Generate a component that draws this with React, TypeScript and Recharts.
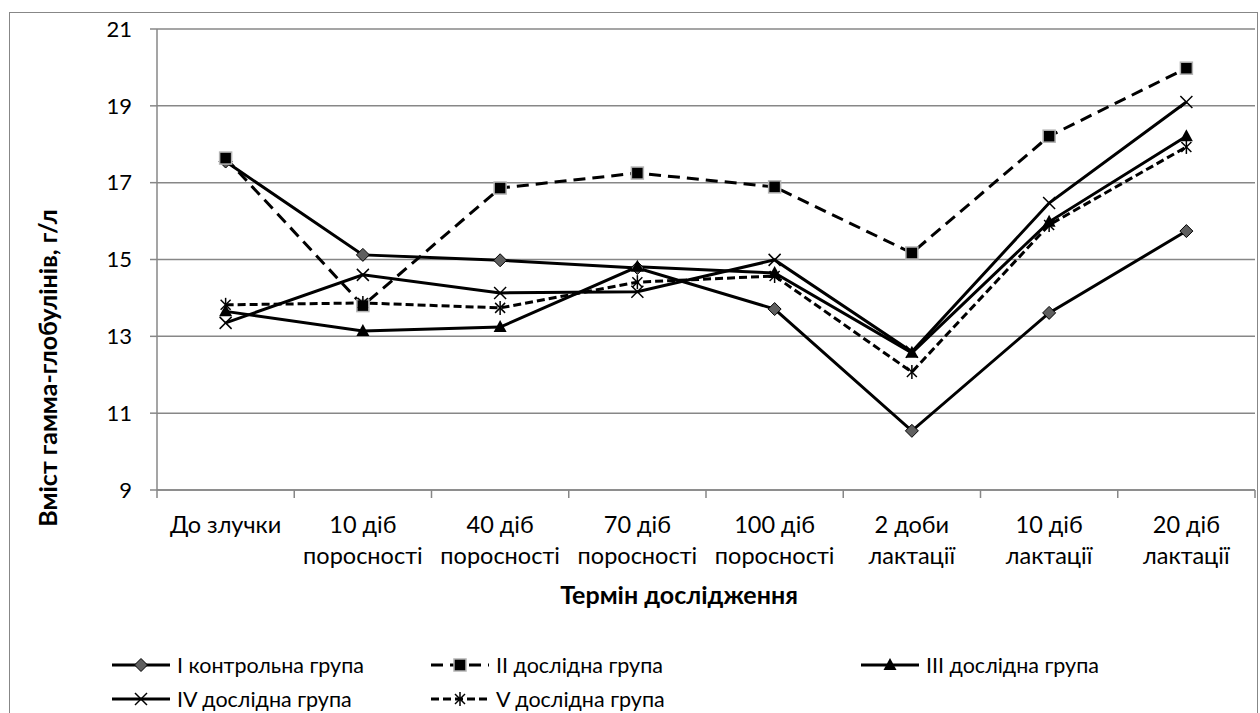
import React from 'react';
import { LineChart, Line, XAxis, YAxis, CartesianGrid } from 'recharts';

// Термін дослідження (two-line tick labels split on \n)
const periods = [
  'До злучки',
  '10 діб\nпоросності',
  '40 діб\nпоросності',
  '70 діб\nпоросності',
  '100 діб\nпоросності',
  '2 доби\nлактації',
  '10 діб\nлактації',
  '20 діб\nлактації',
];

// гамма-глобуліни, г/л
const group1 = [17.55, 15.12, 14.98, 14.78, 13.71, 10.54, 13.61, 15.74];
const group2 = [17.64, 13.8, 16.86, 17.25, 16.89, 15.17, 18.21, 19.98];
const group3 = [13.65, 13.14, 13.24, 14.81, 14.65, 12.57, 15.98, 18.21];
const group4 = [13.35, 14.6, 14.13, 14.16, 14.99, 12.6, 16.47, 19.1];
const group5 = [13.82, 13.87, 13.74, 14.41, 14.57, 12.07, 15.9, 17.93];

const seriesNames = [
  'I контрольна група',
  'II дослідна група',
  'III дослідна група',
  'IV дослідна група',
  'V дослідна група',
];

const yTicks = [9, 11, 13, 15, 17, 19, 21];

const data = periods.map((p, i) => ({
  period: p,
  g1: group1[i],
  g2: group2[i],
  g3: group3[i],
  g4: group4[i],
  g5: group5[i],
}));

const W = 1260;
const H = 713;
const margin = { top: 29, right: 5, bottom: 193, left: 0 };
const Y_W = 157;
const band = (W - margin.left - margin.right - Y_W) / periods.length;

const FONT = 'Lato, "Open Sans", sans-serif';
const GRAY = '#878787';

type MarkerKind = 'diamond' | 'square' | 'triangle' | 'cross' | 'star';

function Marker({ kind, cx, cy }: { kind: MarkerKind; cx: number; cy: number }) {
  if (kind === 'diamond') {
    const r = 6.5;
    return (
      <polygon
        points={`${cx},${cy - r} ${cx + r},${cy} ${cx},${cy + r} ${cx - r},${cy}`}
        fill="#5f5f5f"
        stroke="#000"
        strokeWidth={1}
      />
    );
  }
  if (kind === 'square') {
    return <rect x={cx - 6} y={cy - 6} width={12} height={12} fill="#000" stroke="#b4b4b4" strokeWidth={1.5} />;
  }
  if (kind === 'triangle') {
    return (
      <polygon points={`${cx},${cy - 7} ${cx + 6.5},${cy + 5} ${cx - 6.5},${cy + 5}`} fill="#000" />
    );
  }
  if (kind === 'cross') {
    return (
      <g stroke="#000" strokeWidth={1.5}>
        <line x1={cx - 6} y1={cy - 6} x2={cx + 6} y2={cy + 6} />
        <line x1={cx - 6} y1={cy + 6} x2={cx + 6} y2={cy - 6} />
      </g>
    );
  }
  return (
    <g stroke="#000" strokeWidth={1.5}>
      <line x1={cx - 5} y1={cy - 5} x2={cx + 5} y2={cy + 5} />
      <line x1={cx - 5} y1={cy + 5} x2={cx + 5} y2={cy - 5} />
      <line x1={cx} y1={cy - 7} x2={cx} y2={cy + 7} />
    </g>
  );
}

const seriesStyle: { key: string; kind: MarkerKind; dash?: string }[] = [
  { key: 'g1', kind: 'diamond' },
  { key: 'g2', kind: 'square', dash: '12 7' },
  { key: 'g3', kind: 'triangle' },
  { key: 'g4', kind: 'cross' },
  { key: 'g5', kind: 'star', dash: '8 4' },
];

function PeriodTick(props: any) {
  const { x, y, payload, index } = props;
  const lines = String(payload.value).split('\n');
  return (
    <g>
      <line x1={x - band / 2} y1={y} x2={x - band / 2} y2={y + 8} stroke={GRAY} strokeWidth={1.5} />
      {index === periods.length - 1 && (
        <line x1={x + band / 2} y1={y} x2={x + band / 2} y2={y + 8} stroke={GRAY} strokeWidth={1.5} />
      )}
      {lines.map((t, i) => (
        <text key={i} x={x} y={y + 43 + i * 31} textAnchor="middle" fontSize={23.5} fontFamily={FONT} fill="#000">
          {t}
        </text>
      ))}
    </g>
  );
}

function LegendItem({ idx }: { idx: number }) {
  const s = seriesStyle[idx];
  return (
    <div style={{ display: 'flex', alignItems: 'center' }}>
      <svg width={60} height={16} style={{ marginRight: 5 }}>
        <line x1={0} y1={8} x2={58} y2={8} stroke="#000" strokeWidth={3} strokeDasharray={s.dash} />
        <Marker kind={s.kind} cx={29} cy={8} />
      </svg>
      <span>{seriesNames[idx]}</span>
    </div>
  );
}

export default function App() {
  const legendPos = [
    { idx: 0, left: 112, top: 655 },
    { idx: 1, left: 431, top: 655 },
    { idx: 2, left: 861, top: 655 },
    { idx: 3, left: 112, top: 689 },
    { idx: 4, left: 431, top: 689 },
  ];
  return (
    <div style={{ position: 'absolute', left: 0, top: 0, width: W, height: H, overflow: 'hidden', background: '#fff' }}>
      <div
        style={{
          position: 'absolute',
          left: 9,
          top: 12,
          width: 1249,
          height: 720,
          border: `1.5px solid ${GRAY}`,
          boxSizing: 'border-box',
        }}
      />
      <div style={{ position: 'absolute', left: 0, top: 0 }}>
        <LineChart width={W} height={H} data={data} margin={margin}>
          <CartesianGrid vertical={false} stroke={GRAY} strokeWidth={1.5} />
          <XAxis
            dataKey="period"
            interval={0}
            height={30}
            padding={{ left: band / 2, right: band / 2 }}
            tickLine={false}
            tickSize={0}
            tickMargin={0}
            stroke={GRAY}
            strokeWidth={1.5}
            tick={<PeriodTick />}
            label={() => (
              <text x={679} y={604} textAnchor="middle" fontSize={25} fontWeight="bold" fontFamily={FONT} fill="#000">
                Термін дослідження
              </text>
            )}
          />
          <YAxis
            width={Y_W}
            domain={[9, 21]}
            ticks={yTicks}
            interval={0}
            tickSize={7}
            tickMargin={18}
            stroke={GRAY}
            strokeWidth={1.5}
            tick={{ fontSize: 22, fontFamily: FONT, fill: '#000' }}
            label={() => (
              <text
                x={57}
                y={368}
                transform="rotate(-90 57 368)"
                textAnchor="middle"
                fontSize={25}
                fontWeight="bold"
                fontFamily={FONT}
                fill="#000"
              >
                Вміст гамма-глобулінів, г/л
              </text>
            )}
          />
          {seriesStyle.map((s, i) => (
            <Line
              key={s.key}
              type="linear"
              dataKey={s.key}
              name={seriesNames[i]}
              stroke="#000"
              strokeWidth={3}
              strokeDasharray={s.dash}
              isAnimationActive={false}
              dot={(p: any) => <Marker key={`${s.key}-${p.index}`} kind={s.kind} cx={p.cx} cy={p.cy} />}
              activeDot={false}
            />
          ))}
        </LineChart>
      </div>
      {legendPos.map((l) => (
        <div
          key={l.idx}
          style={{ position: 'absolute', left: l.left, top: l.top, fontFamily: FONT, fontSize: 21.5, lineHeight: '20px' }}
        >
          <LegendItem idx={l.idx} />
        </div>
      ))}
    </div>
  );
}
